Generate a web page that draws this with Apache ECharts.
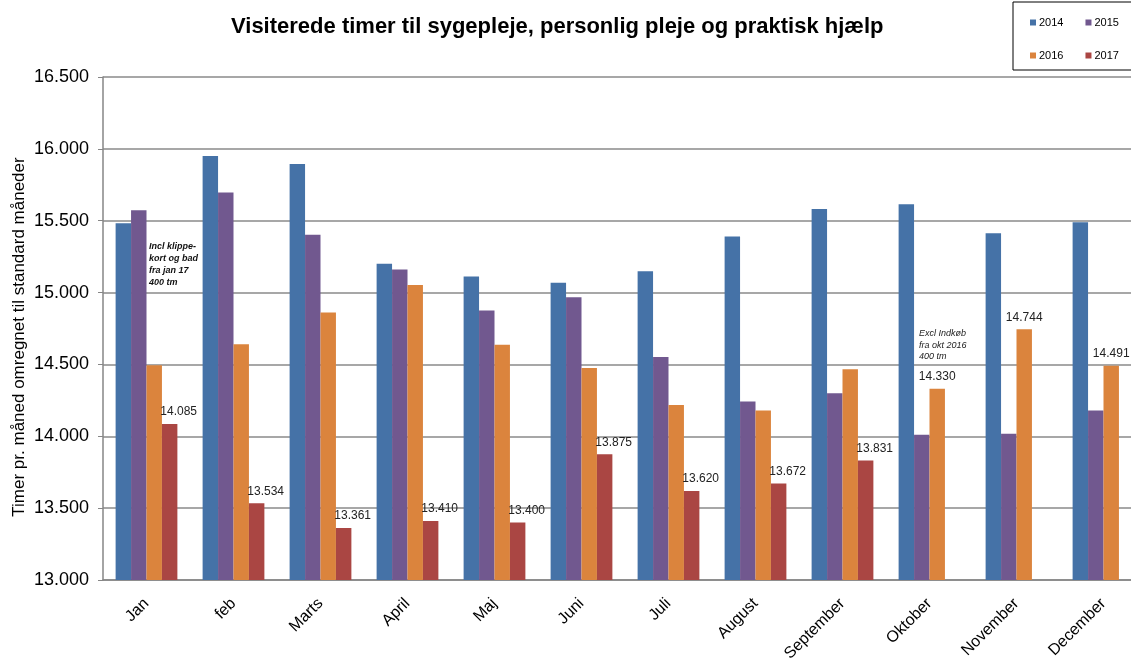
<!DOCTYPE html>
<html>
<head>
<meta charset="utf-8">
<script src="https://cdn.jsdelivr.net/npm/echarts@6/dist/echarts.min.js"></script>
<style>
  html, body { margin: 0; padding: 0; background: #fff; }
  #chart { width: 1131px; height: 660px; }
</style>
</head>
<body>
<div id="chart"></div>
<script>
// months on the x axis
const months = ['Jan', 'feb', 'Marts', 'April', 'Maj', 'Juni', 'Juli', 'August',
  'September', 'Oktober', 'November', 'December'];

// visited hours per month, per year
const y2014 = [15482, 15950, 15894, 15201, 15111, 15069, 15148, 15390, 15582, 15614, 15413, 15489];
const y2015 = [15572, 15697, 15402, 15161, 14875, 14967, 14552, 14242, 14300, 14011, 14018, 14180];
const y2016 = [14495, 14640, 14861, 15053, 14637, 14475, 14217, 14180, 14466, 14330, 14744, 14491];
const y2017 = [14085, 13534, 13361, 13410, 13400, 13875, 13620, 13672, 13831, 0, 0, 0];

// months where the 2016 bar carries a value label
const labelled2016 = ['Oktober', 'November', 'December'];

// y axis ticks
const yMin = 13000;
const yMax = 16500;
const yStep = 500;

const fmt = v => (v / 1000).toFixed(3);

const chart = echarts.init(document.getElementById('chart'), null, { renderer: 'canvas' });

const barBase = {
  type: 'bar',
  barGap: '0%',
  barCategoryGap: '29%'
};

chart.setOption({
  animation: false,
  textStyle: { fontFamily: 'Liberation Sans, Arial, sans-serif' },
  title: {
    text: 'Visiterede timer til sygepleje, personlig pleje og praktisk hjælp',
    left: 226,
    top: 11,
    textStyle: { fontSize: 22, fontWeight: 'bold', color: '#000' }
  },
  legend: {
    left: 1013,
    top: 2,
    width: 100,
    padding: [15, 90, 9, 17],
    itemGap: 22,
    itemWidth: 6,
    itemHeight: 6,
    icon: 'rect',
    borderColor: '#000',
    borderWidth: 1,
    textStyle: { fontSize: 11, color: '#000', padding: [0, 0, 0, -2] }
  },
  // the plot runs past the right edge of the picture, as in the original
  grid: { left: 103, right: -16, top: 77, bottom: 80, outerBoundsMode: 'none' },
  xAxis: {
    type: 'category',
    data: months,
    axisLine: { lineStyle: { color: '#868686', width: 1.5 } },
    axisTick: { length: 5, lineStyle: { color: '#868686' } },
    axisLabel: {
      rotate: 45,
      fontSize: 16,
      color: '#000',
      margin: 21
    }
  },
  yAxis: {
    type: 'value',
    min: yMin,
    max: yMax,
    interval: yStep,
    axisLine: { show: true, lineStyle: { color: '#868686', width: 1.5 } },
    axisTick: { show: true, length: 5, lineStyle: { color: '#868686' } },
    axisLabel: { fontSize: 18, color: '#000', margin: 14, formatter: fmt },
    splitLine: { lineStyle: { color: '#8a8a8a', width: 1.5 } }
  },
  graphic: [
    {
      type: 'text',
      x: 19,
      y: 337,
      rotation: Math.PI / 2,
      style: {
        text: 'Timer pr. måned omregnet til standard måneder',
        fontSize: 17,
        fill: '#000',
        align: 'center',
        verticalAlign: 'middle',
        fontFamily: 'Liberation Sans'
      }
    },
    {
      type: 'text',
      x: 149,
      y: 241,
      style: {
        text: 'Incl klippe-\nkort og bad\nfra jan 17\n400 tm',
        fontSize: 9,
        lineHeight: 12,
        fontStyle: 'italic',
        fontWeight: 'bold',
        fill: '#111',
        fontFamily: 'Liberation Sans'
      }
    },
    {
      type: 'text',
      x: 919,
      y: 328,
      style: {
        text: 'Excl Indkøb\nfra okt 2016\n400 tm',
        fontSize: 9,
        lineHeight: 11.5,
        fontStyle: 'italic',
        fill: '#222',
        fontFamily: 'Liberation Sans'
      }
    }
  ],
  series: [
    Object.assign({}, barBase, { name: '2014', data: y2014, itemStyle: { color: '#4572A7' } }),
    Object.assign({}, barBase, { name: '2015', data: y2015, itemStyle: { color: '#71588F' } }),
    Object.assign({}, barBase, {
      name: '2016',
      itemStyle: { color: '#DB843D' },
      data: y2016.map((v, i) => labelled2016.includes(months[i])
        ? { value: v, label: { show: true } }
        : v),
      label: {
        show: false,
        position: 'top',
        distance: 6,
        fontSize: 12,
        color: '#222',
        formatter: p => fmt(p.value)
      }
    }),
    Object.assign({}, barBase, {
      name: '2017',
      data: y2017,
      itemStyle: { color: '#AA4643' },
      label: {
        show: true,
        position: 'top',
        distance: 6,
        offset: [9, 0],
        fontSize: 12,
        color: '#222',
        formatter: p => (p.value > 0 ? fmt(p.value) : '')
      }
    })
  ]
});
</script>
</body>
</html>
